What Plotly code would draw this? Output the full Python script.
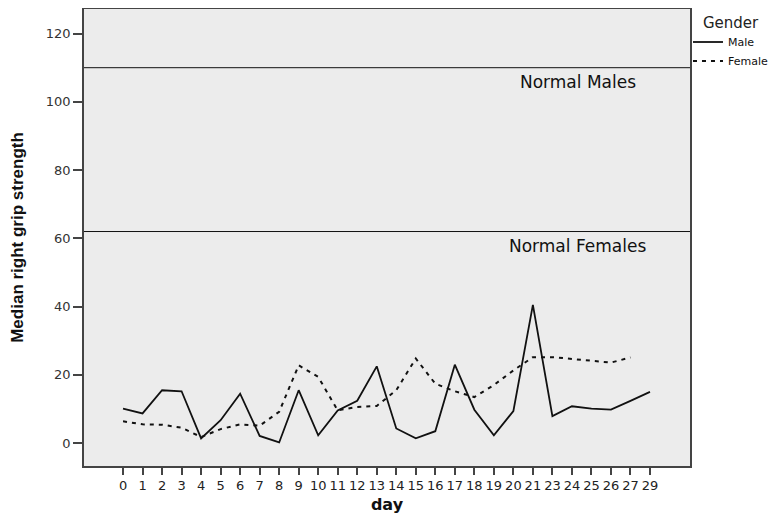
import plotly.graph_objects as go

days = ["0", "1", "2", "3", "4", "5", "6", "7", "8", "9", "10", "11", "12", "13", "14",
        "15", "16", "17", "18", "19", "20", "21", "23", "24", "25", "26", "27", "29"]
male = [10.1, 8.7, 15.5, 15.2, 1.4, 6.7, 14.5, 2.1, 0.2, 15.5, 2.3, 9.6, 12.4, 22.5, 4.3,
        1.4, 3.5, 23.0, 9.8, 2.3, 9.4, 40.5, 7.9, 10.8, 10.1, 9.8, 12.4, 15.0]
female = [6.4, 5.5, 5.4, 4.5, 1.8, 4.1, 5.5, 5.1, 9.2, 22.8, 19.4, 9.6, 10.6, 10.9, 15.5,
          24.8, 17.4, 15.2, 13.5, 17.0, 21.3, 25.2, 25.2, 24.6, 24.0, 23.6, 25.1, None]
ref_values = [110, 62]
ref_labels = ["Normal Males", "Normal Females"]
y_ticks = [0, 20, 40, 60, 80, 100, 120]

idx = list(range(len(days)))
font = "DejaVu Sans, Verdana, sans-serif"

fig = go.Figure()
fig.add_trace(go.Scatter(x=idx, y=male, mode="lines", name="Male",
                         line=dict(color="#111111", width=1.8)))
fig.add_trace(go.Scatter(x=idx, y=female, mode="lines", name="Female",
                         line=dict(color="#111111", width=2, dash="4px,5px"),
                         connectgaps=False))

for v, lab in zip(ref_values, ref_labels):
    fig.add_shape(type="line", xref="paper", x0=0, x1=1, y0=v, y1=v,
                  line=dict(color="#111111", width=1))
    fig.add_annotation(x=0.815, xref="paper", y=v, yref="y", text=lab, showarrow=False,
                       yanchor="top", yshift=-2, xanchor="center",
                       font=dict(family=font, size=17, color="#111111"))

fig.update_layout(
    width=775, height=513,
    margin=dict(l=76, r=93, t=1, b=55, autoexpand=False),
    paper_bgcolor="white", plot_bgcolor="#ECECEC",
    font=dict(family=font, color="#222222"),
    showlegend=True,
    legend=dict(xref="container", yref="container", x=0.8774, xanchor="left",
                y=1.0, yanchor="top",
                title=dict(text="Gender", side="top center",
                           font=dict(size=15, family=font, color="#222222")),
                font=dict(size=11, family=font, color="#111111"), bgcolor="rgba(0,0,0,0)",
                itemwidth=30, tracegroupgap=0),
    xaxis=dict(range=[-2, 29.05], tickmode="array", tickvals=idx, ticktext=days,
               automargin=False,
               showgrid=False, zeroline=False, showline=True, mirror=True,
               linecolor="#444444", linewidth=1.5, ticks="outside", ticklen=7,
               tickcolor="#444444", tickwidth=2, tickangle=0,
               tickfont=dict(size=13, family=font, color="#222222"),
               title=dict(text="<b>day</b>", font=dict(size=16, family=font, color="#111111"),
                          standoff=6)),
    yaxis=dict(range=[-6.7, 127.2], tickmode="array", tickvals=y_ticks,
               automargin=False,
               showgrid=False, zeroline=False, showline=True, mirror=True,
               linecolor="#444444", linewidth=1.5, ticks="outside", ticklen=9,
               tickcolor="#444444", tickwidth=1.5,
               tickfont=dict(size=13, family=font, color="#333333"),
               title=dict(text="<b>Median right grip strength</b>",
                          font=dict(size=17, family="Liberation Sans Narrow, Arial Narrow, Liberation Sans, sans-serif",
                                    color="#111111"),
                          standoff=20)),
)

fig.write_html("out.html")
